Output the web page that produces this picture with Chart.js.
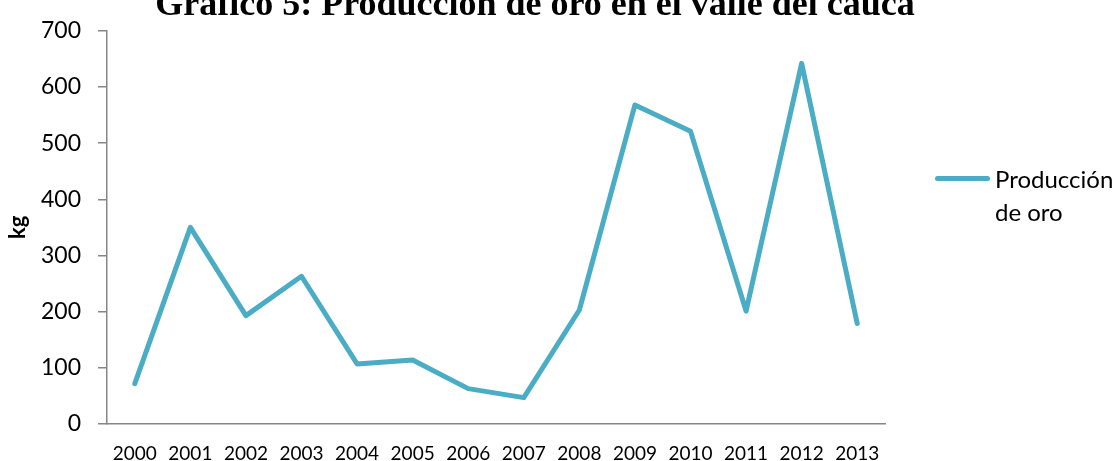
<!DOCTYPE html>
<html>
<head>
<meta charset="utf-8">
<script src="https://cdn.jsdelivr.net/npm/chart.js@4/dist/chart.umd.min.js"></script>
<style>
  body { margin: 0; background: #fff; overflow: hidden; }
  #caja { position: relative; width: 1117px; height: 461px; }
  #titulo {
    position: absolute; left: 0; width: 1070px; top: -15px;
    text-align: center; font: bold 36px "Liberation Serif", serif; color: #000;
    line-height: 36px; white-space: nowrap;
  }
  #leyenda {
    position: absolute; left: 935px; top: 162px;
    font: 24px Lato, sans-serif; color: #000; line-height: 33px;
  }
  #leyenda .muestra {
    position: absolute; left: 0; top: 14px; width: 55px; height: 5px;
    background: #4BACC6; border-radius: 3px;
  }
  #leyenda .texto { margin-left: 60px; }
</style>
</head>
<body>
<div id="caja">
  <canvas id="grafico" width="1117" height="461"></canvas>
  <div id="titulo">Gráfico 5: Producción de oro en el valle del cauca</div>
  <div id="leyenda"><div class="muestra"></div><div class="texto">Producción<br>de oro</div></div>
</div>
<script>
const anios = ["2000", "2001", "2002", "2003", "2004", "2005", "2006", "2007", "2008", "2009", "2010", "2011", "2012", "2013"];
const produccion = [72, 350, 193, 263, 107, 114, 63, 47, 203, 568, 521, 201, 642, 179];
const nombreSerie = "Producción de oro";

const ctx = document.getElementById("grafico").getContext("2d");

const grafico = new Chart(ctx, {
    type: "line",
    data: {
        labels: anios,
        datasets: [{
            label: nombreSerie,
            data: produccion,
            borderColor: "#4BACC6",
            borderWidth: 5,
            borderJoinStyle: "round",
            borderCapStyle: "round",
            pointRadius: 0,
            tension: 0,
            fill: false
        }]
    },
    options: {
        responsive: false,
        animation: false,
        layout: { padding: { left: 0, top: 25, right: 232, bottom: 0 } },
        plugins: {
            legend: { display: false },
            tooltip: { enabled: false }
        },
        scales: {
            x: {
                offset: true,
                grid: { display: false },
                border: { display: true, color: "#868686", width: 1.5 },
                ticks: {
                    color: "#000",
                    font: { family: "Lato", size: 19 },
                    padding: 10,
                    maxRotation: 0,
                    autoSkip: false
                },
                afterFit: (eje) => { eje.height = 37; }
            },
            y: {
                min: 0,
                max: 700,
                ticks: {
                    stepSize: 100,
                    color: "#000",
                    font: { family: "Lato", size: 23 },
                    padding: 17
                },
                grid: {
                    drawOnChartArea: false,
                    drawTicks: true,
                    tickLength: 9,
                    color: "#868686",
                    lineWidth: 1.5
                },
                border: { display: true, color: "#868686", width: 1.5 },
                title: {
                    display: true,
                    text: "kg",
                    color: "#000",
                    font: { family: "Lato", size: 22, weight: "bold" },
                    padding: { top: 5, bottom: 0 }
                },
                afterFit: (eje) => { eje.width = 107; }
            }
        }
    }
});
</script>
</body>
</html>
